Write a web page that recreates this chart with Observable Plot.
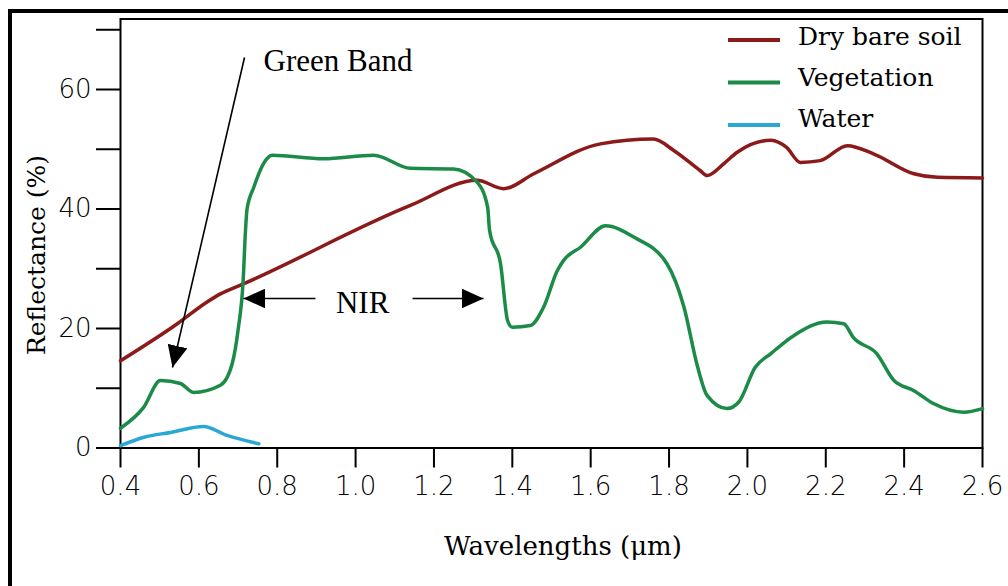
<!DOCTYPE html>
<html><head><meta charset="utf-8">
<script src="https://cdn.jsdelivr.net/npm/d3@7"></script>
<script src="https://cdn.jsdelivr.net/npm/@observablehq/plot@0.6"></script>
<style>
html,body{margin:0;padding:0;background:#fff;}
#wrap{position:relative;width:1008px;height:586px;overflow:hidden;background:#fff;}
#wrap > svg{position:absolute;left:0;top:0;}
#border{position:absolute;left:8px;top:9px;right:-20px;bottom:-20px;border-left:4px solid #000;border-top:4px solid #000;}
</style></head><body><div id="wrap"></div>
<script>
// ---- data ----
const seriesNames = ["Dry bare soil", "Vegetation", "Water"];
const seriesColors = ["#8c1a1a", "#1b8b47", "#2aa8d4"];

const soilX = [0.40, 0.545, 0.62, 0.655, 0.715, 1.14, 1.31, 1.378, 1.455, 1.625, 1.76, 1.812, 1.88, 1.897, 1.94, 1.974, 2.06, 2.10, 2.135, 2.186, 2.255, 2.323, 2.425, 2.485, 2.60];
const soilY = [14.6, 20.8, 24.4, 25.8, 27.5, 40.6, 44.8, 43.4, 45.9, 50.9, 51.7, 49.8, 46.4, 45.6, 47.6, 49.5, 51.5, 50.3, 47.8, 48.1, 50.6, 49.2, 45.9, 45.3, 45.2];

const vegX = [0.40, 0.459, 0.502, 0.553, 0.586, 0.655, 0.685, 0.70, 0.713, 0.719, 0.723, 0.74, 0.765, 0.787, 0.918, 1.046, 1.14, 1.25, 1.31, 1.337, 1.342, 1.37, 1.388, 1.40, 1.446, 1.48, 1.515, 1.531, 1.574, 1.638, 1.71, 1.795, 1.838, 1.872, 1.897, 1.948, 1.978, 2.02, 2.06, 2.118, 2.203, 2.246, 2.27, 2.33, 2.374, 2.425, 2.476, 2.552, 2.60];
const vegY = [3.3, 6.8, 11.3, 10.8, 9.3, 10.5, 14.1, 19.7, 28, 36.4, 40, 43.6, 47.6, 49, 48.4, 49, 46.8, 46.7, 44.5, 40.3, 36.4, 30.8, 21.3, 20.2, 20.5, 23.6, 29.7, 31.4, 33.6, 37.2, 35.3, 30.8, 23.6, 13.8, 8.8, 6.6, 7.7, 13.5, 15.8, 18.8, 21.1, 20.8, 18.5, 15.8, 11.3, 9.6, 7.4, 6.0, 6.6];

const waterX = [0.40, 0.46, 0.528, 0.612, 0.672, 0.753];
const waterY = [0.4, 1.8, 2.6, 3.6, 2.1, 0.7];

const xTicks = [0.4, 0.6, 0.8, 1.0, 1.2, 1.4, 1.6, 1.8, 2.0, 2.2, 2.4, 2.6];
const yTicks = [0, 10, 20, 30, 40, 50, 60, 70];
const yTickLabels = ["0", "", "20", "", "40", "", "60", ""];

const labelTexts = ["Green Band", "NIR"];
const labelX = [0.765, 1.018];
const labelY = [64.7, 24.3];

const arrowX1 = [0.7165, 0.8977, 1.1453];
const arrowY1 = [65.36, 25.02, 25.02];
const arrowX2 = [0.5327, 0.7139, 1.3265];
const arrowY2 = [13.47, 25.02, 25.02];

const xTitle = "Wavelengths (μm)";
const yTitle = "Reflectance (%)";

// ---- tables ----
const toRows = (xs, ys) => xs.map((x, i) => ({x, y: ys[i]}));
const series = [toRows(soilX, soilY), toRows(vegX, vegY), toRows(waterX, waterY)];
const labels = labelTexts.map((t, i) => ({t, x: labelX[i], y: labelY[i]}));
const arrows = arrowX1.map((x1, i) => ({x1, y1: arrowY1[i], x2: arrowX2[i], y2: arrowY2[i]}));

const serif = "'DejaVu Serif', serif";
const timesLike = "'Liberation Serif', 'Times New Roman', serif";

const chart = Plot.plot({
  width: 1008, height: 586,
  marginLeft: 120, marginRight: 26, marginTop: 18.5, marginBottom: 138.5,
  x: {domain: [0.4, 2.6]},
  y: {domain: [0, 71.8]},
  style: {fontFamily: "'DejaVu Sans', sans-serif", fontSize: "26px", background: "white", color: "black", fontWeight: 200},
  marks: [
    Plot.frame({stroke: "black", strokeWidth: 2}),
    Plot.axisX({ticks: xTicks, tickSize: 20, tickPadding: 9, tickFormat: d3.format(".1f"), strokeWidth: 2, label: null, fontSize: 26}),
    Plot.axisY({ticks: yTicks, tickSize: 24, tickPadding: 5, tickFormat: (d) => yTickLabels[yTicks.indexOf(d)], strokeWidth: 2, label: null, fontSize: 26}),
    ...series.map((rows, i) => Plot.line(rows, {x: "x", y: "y", stroke: seriesColors[i], strokeWidth: 3.5, strokeLinejoin: "round", strokeLinecap: "round", curve: "monotone-x"})),
    Plot.link(arrows, {x1: "x1", y1: "y1", x2: "x2", y2: "y2", stroke: "black", strokeWidth: 1.6, markerEnd: "arrow"}),
    Plot.text([labels[0]], {x: "x", y: "y", text: "t", textAnchor: "start", fontFamily: timesLike, fontSize: 31, fill: "black", fontWeight: 400}),
    Plot.text([labels[1]], {x: "x", y: "y", text: "t", textAnchor: "middle", fontFamily: timesLike, fontSize: 31, fill: "black", fontWeight: 400})
  ]
});

// filled triangular arrowheads
chart.querySelectorAll("marker").forEach(m => {
  m.setAttribute("viewBox", "-22 -10 22 20");
  m.setAttribute("markerWidth", 22);
  m.setAttribute("markerHeight", 20);
  m.setAttribute("markerUnits", "userSpaceOnUse");
  m.setAttribute("refX", 0);
  m.setAttribute("refY", 0);
  m.setAttribute("fill", "black");
  m.setAttribute("stroke", "none");
  while (m.firstChild) m.removeChild(m.firstChild);
  const p = document.createElementNS("http://www.w3.org/2000/svg", "path");
  p.setAttribute("d", "M-22,-10L0,0L-22,10Z");
  m.appendChild(p);
});

const wrap = document.getElementById("wrap");
wrap.appendChild(chart);
const border = document.createElement("div");
border.id = "border";
wrap.appendChild(border);

// overlay: legend and axis titles
const ov = d3.create("svg").attr("width", 1008).attr("height", 586)
  .style("position", "absolute").style("left", "0px").style("top", "0px");
seriesNames.forEach((name, i) => {
  ov.append("line").attr("x1", 728).attr("x2", 780)
    .attr("y1", 40 + i * 42.5).attr("y2", 40 + i * 42.5)
    .attr("stroke", seriesColors[i]).attr("stroke-width", 4);
  ov.append("text").attr("x", 798).attr("y", 45 + i * 41)
    .attr("font-family", serif).attr("font-size", 25).attr("fill", "black")
    .text(name);
});
ov.append("text").attr("x", 563).attr("y", 555).attr("text-anchor", "middle")
  .attr("font-family", serif).attr("font-size", 26).attr("fill", "black").text(xTitle);
ov.append("text").attr("transform", "translate(45,255) rotate(-90)").attr("text-anchor", "middle")
  .attr("font-family", serif).attr("font-size", 25).attr("fill", "black").text(yTitle);
wrap.appendChild(ov.node());
</script></body></html>
